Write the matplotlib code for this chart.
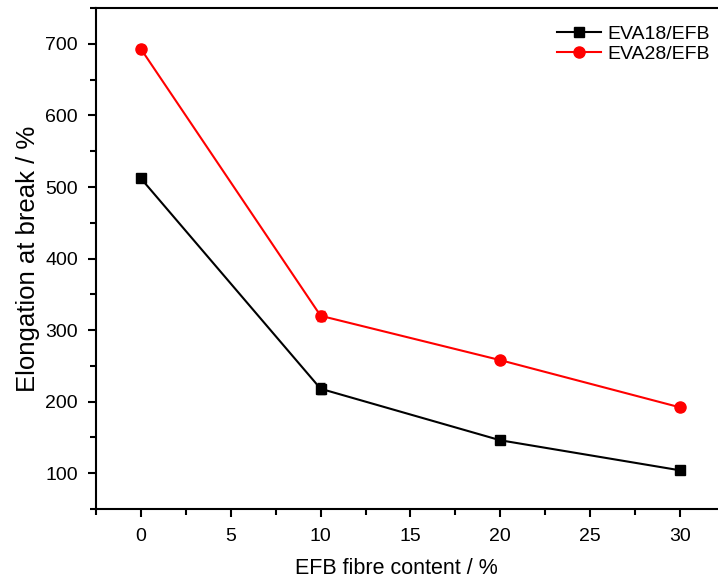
import matplotlib.pyplot as plt
from matplotlib.ticker import MultipleLocator
from matplotlib.lines import Line2D

plt.rcParams['font.family'] = ['Liberation Sans', 'DejaVu Sans']

fibre = [0, 10, 20, 30]
eva18 = [512, 218, 146, 104]
eva18_err = [5, 8, 4, 4]
eva28 = [693, 320, 258, 192]
eva28_err = [6, 7, 4, 5]

fig = plt.figure(figsize=(7.18, 5.83), dpi=100)
ax = fig.add_axes([0.1337, 0.127, 0.876, 0.859])

ax.errorbar(fibre, eva18, yerr=eva18_err, color='black', marker='s', markersize=7,
            linewidth=1.5, capsize=3)
ax.errorbar(fibre, eva28, yerr=eva28_err, color='red', marker='o', markersize=8,
            linewidth=1.5, capsize=3)

ax.set_xlim(-2.5, 32.5)
ax.set_ylim(50, 750)
ax.xaxis.set_major_locator(MultipleLocator(5))
ax.xaxis.set_minor_locator(MultipleLocator(2.5))
ax.yaxis.set_major_locator(MultipleLocator(100))
ax.yaxis.set_minor_locator(MultipleLocator(50))
ax.tick_params(which='both', direction='out', width=1.5, labelsize=14)
ax.tick_params(which='major', length=6)
ax.tick_params(which='minor', length=4)
ax.tick_params(axis='x', which='major', pad=8)
ax.tick_params(axis='y', which='major', pad=7)
for s in ax.spines.values():
    s.set_linewidth(1.5)

ax.set_xlabel('EFB fibre content / %', fontsize=15.5)
ax.xaxis.set_label_coords(0.478, -0.098)
ax.set_ylabel('Elongation at break / %', fontsize=18.5, labelpad=4)

handles = [Line2D([], [], color='black', marker='s', markersize=7, linewidth=1.5),
           Line2D([], [], color='red', marker='o', markersize=8, linewidth=1.5)]
ax.legend(handles, ['EVA18/EFB', 'EVA28/EFB'], loc='upper left',
          bbox_to_anchor=(0.72, 0.982), frameon=False, fontsize=14,
          handlelength=2.3, handletextpad=0.3, borderaxespad=0, labelspacing=0.15)

fig.savefig('out.png', dpi=100)
